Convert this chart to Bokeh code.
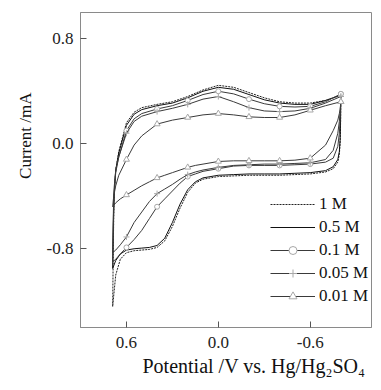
from bokeh.plotting import figure
from bokeh.models import Range1d, FixedTicker, NumeralTickFormatter, Legend, LegendItem, Title
from bokeh.embed import file_html
from bokeh.resources import INLINE

# Potential grids (V vs. Hg/Hg2SO4)
E_up = [0.69, 0.685, 0.68, 0.67, 0.65, 0.6, 0.55, 0.5, 0.4, 0.3, 0.2, 0.1, 0.0,
        -0.1, -0.2, -0.3, -0.4, -0.5, -0.6, -0.7, -0.8]
E_dn = [-0.8, -0.798, -0.795, -0.79, -0.78, -0.75, -0.7, -0.6, -0.5, -0.4, -0.3, -0.2,
        -0.1, 0.0, 0.1, 0.15, 0.2, 0.25, 0.3, 0.35, 0.4, 0.45, 0.5, 0.55, 0.6, 0.64, 0.67, 0.69]

labels = ["1 M", "0.5 M", "0.1 M", "0.05 M", "0.01 M"]

# Currents (mA), forward (upper) branch
I_up_1M = [-1.24, -0.70, -0.40, -0.20, -0.06, 0.16, 0.24, 0.275, 0.30, 0.32, 0.36, 0.41, 0.445,
           0.43, 0.39, 0.35, 0.32, 0.31, 0.31, 0.33, 0.37]
I_up_05M = [-0.95, -0.60, -0.38, -0.20, -0.07, 0.14, 0.225, 0.26, 0.29, 0.31, 0.35, 0.40, 0.43,
            0.415, 0.375, 0.335, 0.31, 0.30, 0.30, 0.33, 0.37]
I_up_01M = [-0.90, -0.55, -0.36, -0.22, -0.10, 0.10, 0.19, 0.23, 0.265, 0.29, 0.33, 0.375, 0.40,
            0.38, 0.34, 0.305, 0.285, 0.28, 0.285, 0.32, 0.38]
I_up_005M = [-0.83, -0.50, -0.33, -0.20, -0.10, 0.08, 0.17, 0.21, 0.245, 0.27, 0.30, 0.34, 0.36,
             0.32, 0.275, 0.25, 0.245, 0.25, 0.27, 0.31, 0.36]
I_up_001M = [-0.48, -0.42, -0.38, -0.32, -0.24, -0.12, -0.01, 0.06, 0.15, 0.18, 0.20, 0.22, 0.23,
             0.22, 0.205, 0.20, 0.20, 0.22, 0.255, 0.29, 0.32]

# Currents (mA), reverse (lower) branch
I_dn_1M = [0.37, 0.15, 0.0, -0.08, -0.14, -0.19, -0.215, -0.23, -0.235, -0.24, -0.24, -0.24,
           -0.245, -0.25, -0.27, -0.30, -0.37, -0.49, -0.63, -0.74, -0.79, -0.805, -0.81, -0.815,
           -0.83, -0.88, -1.0, -1.24]
I_dn_05M = [0.37, 0.17, 0.03, -0.06, -0.12, -0.175, -0.205, -0.22, -0.225, -0.23, -0.23, -0.23,
            -0.235, -0.24, -0.26, -0.29, -0.35, -0.46, -0.60, -0.72, -0.775, -0.79, -0.795, -0.80,
            -0.81, -0.84, -0.89, -0.95]
I_dn_01M = [0.38, 0.28, 0.18, 0.08, -0.02, -0.11, -0.14, -0.155, -0.16, -0.165, -0.165, -0.165,
            -0.17, -0.19, -0.21, -0.23, -0.25, -0.30, -0.36, -0.42, -0.48, -0.57, -0.66, -0.73,
            -0.79, -0.84, -0.88, -0.90]
I_dn_005M = [0.36, 0.30, 0.24, 0.17, 0.08, -0.05, -0.12, -0.145, -0.15, -0.155, -0.155, -0.16,
             -0.165, -0.18, -0.20, -0.215, -0.235, -0.27, -0.31, -0.345, -0.38, -0.44, -0.52, -0.60,
             -0.71, -0.77, -0.81, -0.83]
I_dn_001M = [0.32, 0.29, 0.26, 0.23, 0.18, 0.10, -0.01, -0.11, -0.125, -0.13, -0.13, -0.13,
             -0.13, -0.135, -0.155, -0.165, -0.18, -0.20, -0.22, -0.24, -0.26, -0.29, -0.32, -0.355,
             -0.39, -0.42, -0.45, -0.48]

x_ticks = [0.6, 0.0, -0.6]
y_ticks = [-0.8, 0.0, 0.8]

FONT = "Liberation Serif"

p = figure(width=373, height=382, output_backend="svg", toolbar_location=None,
           x_range=Range1d(0.9, -1.0), y_range=Range1d(-1.4, 1.0),
           min_border_left=80, min_border_right=2, min_border_top=12, min_border_bottom=55)
p.grid.visible = False
p.outline_line_color = "#8a8a8a"
p.background_fill_color = "white"
p.border_fill_color = "white"

for ax in (p.xaxis[0], p.yaxis[0]):
    ax.axis_line_color = "#8a8a8a"
    ax.major_tick_line_color = "#555555"
    ax.major_tick_in = 6
    ax.major_tick_out = 0
    ax.minor_tick_line_color = None
    ax.major_label_text_font = FONT
    ax.major_label_text_font_size = "17px"
    ax.major_label_text_color = "#222222"
    ax.formatter = NumeralTickFormatter(format="0.0")

p.xaxis.ticker = FixedTicker(ticks=x_ticks)
p.yaxis.ticker = FixedTicker(ticks=y_ticks)
p.xaxis.major_label_standoff = 9
p.yaxis.major_label_standoff = 7

# Axis titles (off-centre like the reference)
p.add_layout(Title(text="Potential /V vs. Hg/Hg\u2082SO\u2084", align="left", offset=62,
                   text_font=FONT, text_font_size="20px", text_font_style="normal",
                   text_color="#111111", standoff=4), "below")
p.add_layout(Title(text="Current /mA", align="right", offset=80,
                   text_font=FONT, text_font_size="17px", text_font_style="normal",
                   text_color="#111111", standoff=18), "left")

series = [
    (I_up_1M, I_dn_1M, dict(line_color="#222222", line_dash="2 1"), None),
    (I_up_05M, I_dn_05M, dict(line_color="#111111"), None),
    (I_up_01M, I_dn_01M, dict(line_color="#3a3a3a"), "circle"),
    (I_up_005M, I_dn_005M, dict(line_color="#3a3a3a"), "cross"),
    (I_up_001M, I_dn_001M, dict(line_color="#3a3a3a"), "triangle"),
]
msize = {"circle": 5, "cross": 6, "triangle": 6}

items = []
for lab, (iu, idn, style, marker) in zip(labels, series):
    xs = E_up + E_dn
    ys = iu + idn
    lr = p.line(xs, ys, line_width=1, **style)
    rends = [lr]
    if marker is not None:
        mx, my = [], []
        for e, i in zip(xs, ys):
            k = e * 5
            if abs(k - round(k)) < 1e-6 and -0.81 < e < 0.61:
                mx.append(e)
                my.append(i)
        sr = p.scatter(mx, my, marker=marker, size=msize[marker],
                       fill_color="white", line_color="#a8a8a8", line_width=1)
        rends.append(sr)
    items.append(LegendItem(label=lab, renderers=rends))

legend = Legend(items=items, location=(190, 21), orientation="vertical",
                label_text_font=FONT, label_text_font_size="17px", label_text_color="#111111",
                glyph_width=45, glyph_height=20, label_height=20, label_standoff=4,
                spacing=3, padding=0, margin=0,
                border_line_color=None, background_fill_alpha=0)
p.add_layout(legend, "center")

open("out.html", "w").write(file_html(p, INLINE))
